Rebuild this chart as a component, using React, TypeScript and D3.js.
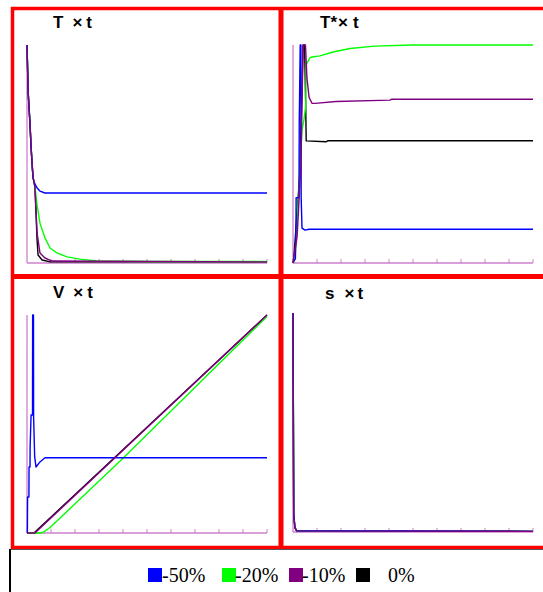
import React, { useEffect, useRef } from "react";
import * as d3 from "d3";

// scenario order as in the legend
const scenarios = ["-50%", "-20%", "-10%", "0%"];
const colors = ["#0000ff", "#00ff00", "#800080", "#000000"];
const drawOrder = [3, 1, 0, 2];

// [t, value] pairs, values in % of the panel's y range
const T_blue = [[0, 100], [0.5, 78], [1.25, 63.8], [1.7, 53.2], [2.1, 45.9], [2.5, 39.4], [2.9, 37.2], [4.2, 34.4], [5.4, 33], [7.5, 32.1], [100, 32.1]];
const T_green = [[0, 100], [0.5, 78], [1.25, 63.8], [1.7, 53.2], [2.1, 45.9], [2.5, 39.4], [3.3, 34.9], [4.2, 26.6], [5.4, 18.3], [7.5, 11.5], [9.6, 6.9], [12.5, 4.6], [16.7, 2.8], [22, 1.8], [29, 0.9], [51, 0.7], [100, 0.7]];
const T_purple = [[0, 100], [0.5, 78], [1.25, 63.8], [1.7, 53.2], [2.1, 45.9], [2.5, 39.4], [3.3, 34.9], [4.2, 13.8], [5.4, 4.6], [7.5, 2.3], [10.4, 0.9], [100, 0.5]];
const T_black = [[0, 100], [0.5, 78], [1.25, 63.8], [1.7, 53.2], [2.1, 45.9], [2.5, 39.4], [3.3, 34.9], [4.2, 10.6], [4.6, 3.7], [6.3, 1.4], [9.6, 0.5], [100, 0.5]];

const Ts_blue = [[0, 0], [1.0, 2], [1.25, 16], [1.3, 30], [2.5, 30], [2.6, 64], [3.0, 100], [3.3, 100], [3.4, 30], [3.75, 16], [5, 15.1], [6.7, 15.5], [100, 15.5]];
const Ts_green = [[0, 0], [1, 5], [2.9, 43], [3.75, 61], [4.6, 66], [5.3, 72], [5.5, 91], [7, 94], [7.9, 94.5], [11.25, 95], [16.7, 96.8], [23.75, 98.4], [34, 99.5], [49.6, 100], [100, 100]];
const Ts_purple = [[0, 0], [1.7, 12], [3.3, 45], [4.2, 100], [5.2, 100], [5.8, 85], [6.7, 76], [7.9, 73.3], [9.2, 73.2], [17.9, 74.1], [40.4, 74.7], [41, 75.1], [100, 75.1]];
const Ts_black = [[0, 0], [0.4, 3], [2.9, 42], [4.2, 100], [4.8, 100], [5.3, 72], [5.5, 56], [13.75, 55.6], [14.6, 56.1], [100, 56.1]];

const V_blue = [[0, 0], [0.15, 0], [0.2, 9.2], [0.25, 16.5], [0.8, 16.5], [0.85, 30.3], [1.25, 30.3], [1.3, 39.4], [1.7, 54.1], [2.3, 54.1], [2.35, 100], [2.7, 100], [2.75, 53.2], [3.2, 34.9], [3.75, 30.3], [5.4, 32.6], [7.5, 34.5], [100, 34.5]];
const V_green = [[0, 0], [5.8, 0], [7, 0.5], [9.6, 2.5], [40, 34.3], [100, 99.3]];
const V_purple = [[0, 0], [3.3, 0], [100, 100]];
const V_black = [[0, 0], [2.9, 0], [100, 100]];

const s_blue = [[0, 100], [0.3, 8], [0.8, 2], [1.5, 0.6], [100, 0.3]];
const s_green = [[0, 100], [0.3, 8], [0.8, 2], [1.5, 0.6], [100, 0.3]];
const s_purple = [[0, 100], [0.3, 8], [0.8, 2], [1.5, 0.5], [100, 0.3]];
const s_black = [[0, 100], [0.3, 8], [0.8, 2], [1.5, 0.5], [100, 0.3]];

const xTicks = [0, 10, 20, 30, 40, 50, 60, 70, 80, 90, 100];

const panels = [
  { x0: 27, top: 45, bottom: 263, title: ["T", "×", "t"], tx: 53, ty: 28, gaps: [9, 4], series: [T_blue, T_green, T_purple, T_black] },
  { x0: 293, top: 45, bottom: 263, title: ["T*", "×", "t"], tx: 320, ty: 28, gaps: [1, 5], series: [Ts_blue, Ts_green, Ts_purple, Ts_black] },
  { x0: 27, top: 315, bottom: 533, title: ["V", "×", "t"], tx: 53, ty: 298, gaps: [9, 4], series: [V_blue, V_green, V_purple, V_black] },
  { x0: 293, top: 313, bottom: 532, title: ["s", "×", "t"], tx: 325, ty: 299, gaps: [10, 3], series: [s_blue, s_green, s_purple, s_black] }
];

const width = 543;
const height = 592;
const axisColor = "#cc80cc";

const App = () => {
  const chart = useRef<SVGSVGElement>(null);

  useEffect(() => {
    const svg = d3.select(chart.current);
    svg.selectAll("*").remove();

    svg.append("rect").attr("width", width).attr("height", height).attr("fill", "#fff");

    panels.forEach(p => {
      const x = d3.scaleLinear().domain([0, 100]).range([p.x0, p.x0 + 240]);
      const y = d3.scaleLinear().domain([0, 100]).range([p.bottom, p.top]);
      const g = svg.append("g");

      // axes
      g.append("line")
        .attr("x1", x(0)).attr("x2", x(0))
        .attr("y1", y(100)).attr("y2", y(0))
        .attr("stroke", axisColor).attr("stroke-width", 1.3);
      g.append("line")
        .attr("x1", x(0)).attr("x2", x(100))
        .attr("y1", y(0)).attr("y2", y(0))
        .attr("stroke", axisColor).attr("stroke-width", 1.3);
      g.selectAll("line.tick")
        .data(xTicks.slice(1))
        .join("line")
        .attr("class", "tick")
        .attr("x1", d => x(d)).attr("x2", d => x(d))
        .attr("y1", y(0)).attr("y2", y(0) - 4)
        .attr("stroke", axisColor).attr("stroke-width", 1);

      const line = d3.line<number[]>().x(d => x(d[0])).y(d => y(d[1]));

      drawOrder.forEach(i => {
        g.append("path")
          .attr("d", line(p.series[i]))
          .attr("fill", "none")
          .attr("stroke", colors[i])
          .attr("stroke-width", 1.4)
          .attr("stroke-linejoin", "round");
      });

      const t = g.append("text")
        .attr("x", p.tx).attr("y", p.ty)
        .attr("font-family", "'Liberation Sans', Arial, sans-serif")
        .attr("font-weight", "bold")
        .attr("font-size", 17)
        .attr("fill", "#000");
      t.append("tspan").text(p.title[0]);
      t.append("tspan").attr("dx", p.gaps[0]).text(p.title[1]);
      t.append("tspan").attr("dx", p.gaps[1]).text(p.title[2]);
    });

    // red frames
    const red = svg.append("g").attr("stroke", "#ff0000");
    red.append("line").attr("x1", 11).attr("x2", 543).attr("y1", 8.5).attr("y2", 8.5).attr("stroke-width", 3.5);
    red.append("line").attr("x1", 12.5).attr("x2", 12.5).attr("y1", 7).attr("y2", 549).attr("stroke-width", 3.5);
    red.append("line").attr("x1", 11).attr("x2", 543).attr("y1", 276.5).attr("y2", 276.5).attr("stroke-width", 5);
    red.append("line").attr("x1", 281).attr("x2", 281).attr("y1", 7).attr("y2", 549).attr("stroke-width", 5);
    red.append("line").attr("x1", 11).attr("x2", 543).attr("y1", 547.5).attr("y2", 547.5).attr("stroke-width", 3.5);

    // legend box
    svg.append("line").attr("x1", 10).attr("x2", 543).attr("y1", 549.5).attr("y2", 549.5).attr("stroke", "#555").attr("stroke-width", 1);
    svg.append("line").attr("x1", 10).attr("x2", 10).attr("y1", 549).attr("y2", 592).attr("stroke", "#000").attr("stroke-width", 2);

    const legendX = [148, 222, 289, 356];
    const labelX = [162, 235, 302, 388];
    const lg = svg.append("g");
    scenarios.forEach((s, i) => {
      lg.append("rect")
        .attr("x", legendX[i]).attr("y", 568)
        .attr("width", 14).attr("height", 14)
        .attr("fill", colors[i]);
      lg.append("text")
        .attr("x", labelX[i]).attr("y", 582)
        .attr("font-family", "'Liberation Serif', 'Times New Roman', serif")
        .attr("font-size", 20)
        .attr("fill", "#000")
        .text(s);
    });
  }, []);

  return (
    <svg
      ref={chart}
      width={width}
      height={height}
      viewBox={`0 0 ${width} ${height}`}
      style={{ position: "absolute", left: 0, top: 0, display: "block" }}
    ></svg>
  );
};

export default App;
